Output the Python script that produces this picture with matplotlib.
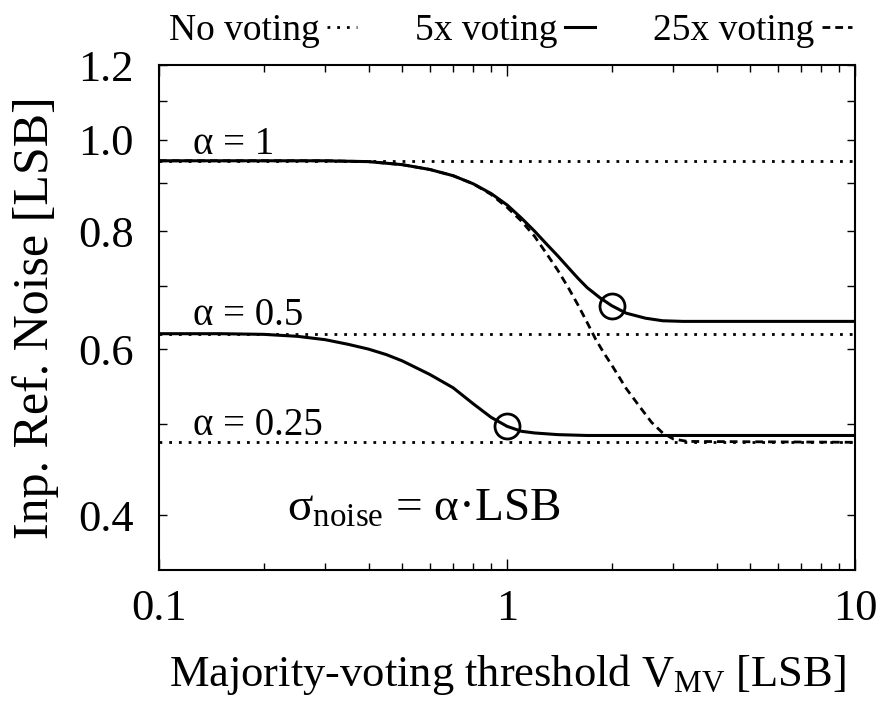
import matplotlib
matplotlib.use("Agg")
import matplotlib.pyplot as plt
from matplotlib.ticker import FixedLocator, FixedFormatter, NullFormatter, LogLocator, NullLocator
from matplotlib.lines import Line2D

plt.rcParams['font.family'] = ['Liberation Serif', 'DejaVu Serif']
plt.rcParams['mathtext.fontset'] = 'custom'
plt.rcParams['mathtext.rm'] = 'Liberation Serif'
plt.rcParams['mathtext.it'] = 'Liberation Serif:italic'

# ---- data ----
x_range = [0.1, 10]
nv_a1 = [0.950, 0.950]
nv_a05 = [0.623, 0.623]
nv_a025 = [0.478, 0.478]

x5_a1 = [0.1, 0.3, 0.4, 0.5, 0.6, 0.7, 0.8, 0.9, 1.0, 1.1, 1.2, 1.3, 1.4, 1.5, 1.6, 1.7, 1.85, 2.0, 2.2, 2.5, 2.8, 3.2, 10]
y5_a1 = [0.950, 0.950, 0.948, 0.941, 0.930, 0.916, 0.898, 0.877, 0.853, 0.826, 0.800, 0.775, 0.753, 0.732,
         0.713, 0.697, 0.680, 0.667, 0.655, 0.647, 0.643, 0.642, 0.642]

x25_a1 = [0.1, 0.3, 0.4, 0.5, 0.6, 0.7, 0.8, 0.9, 1.0, 1.1, 1.2, 1.3, 1.4, 1.5, 1.6, 1.7, 1.8, 1.9, 2.0,
          2.2, 2.4, 2.6, 2.8, 3.0, 3.3, 10]
y25_a1 = [0.950, 0.950, 0.948, 0.941, 0.930, 0.916, 0.898, 0.875, 0.848, 0.820, 0.790, 0.757, 0.727, 0.697,
          0.668, 0.640, 0.614, 0.594, 0.577, 0.545, 0.522, 0.502, 0.489, 0.482, 0.479, 0.478]

x5_a05 = [0.1, 0.15, 0.2, 0.25, 0.3, 0.35, 0.4, 0.45, 0.5, 0.55, 0.6, 0.7, 0.8, 0.9, 1.0, 1.1, 1.2, 1.4, 1.7, 10]
y5_a05 = [0.623, 0.623, 0.622, 0.619, 0.614, 0.607, 0.600, 0.592, 0.583, 0.573, 0.564, 0.546, 0.525, 0.508,
          0.497, 0.491, 0.489, 0.487, 0.486, 0.486]

circle_x = [2.0, 1.0]
circle_y = [0.667, 0.497]

y_ticks = [0.4, 0.5, 0.6, 0.7, 0.8, 0.9, 1.0, 1.1, 1.2]
y_ticklabels = ['0.4', '', '0.6', '', '0.8', '', '1.0', '', '1.2']
x_ticks = [0.1, 1, 10]
x_ticklabels = ['0.1', '1', '10']

alpha_labels = ['α = 1', 'α = 0.5', 'α = 0.25']
alpha_label_y = [0.966, 0.636, 0.486]

# ---- figure ----
fig = plt.figure(figsize=(8.89, 7.09), dpi=100)
ax = fig.add_axes([0.1789, 0.196, 0.9618 - 0.1789, 0.9083 - 0.196])
ax.set_xscale('log')
ax.set_yscale('log')
ax.set_xlim(0.1, 10)
ax.set_ylim(0.35, 1.2)

dot = (0, (1, 2.5))
dash = (0, (2.8, 1.8))
lw = 2.0
for yv in (nv_a1, nv_a05, nv_a025):
    ax.plot(x_range, yv, color='black', lw=lw, linestyle=dot)
ax.plot(x25_a1, y25_a1, color='black', lw=lw, linestyle=dash)
ax.plot(x5_a1, y5_a1, color='black', lw=2.2, linestyle='-')
ax.plot(x5_a05, y5_a05, color='black', lw=2.2, linestyle='-')
ax.plot(circle_x, circle_y, linestyle='none', marker='o', ms=18, mfc='none', mec='black', mew=2)

for lab, yv in zip(alpha_labels, alpha_label_y):
    ax.text(0.125, yv, lab, fontsize=28, va='baseline', ha='left')
ax.text(0.233, 0.395, r'σ$_{\mathrm{noise}}$ = α·LSB', fontsize=34, va='baseline', ha='left')

ax.yaxis.set_major_locator(FixedLocator(y_ticks))
ax.yaxis.set_major_formatter(FixedFormatter(y_ticklabels))
ax.yaxis.set_minor_locator(NullLocator())
ax.xaxis.set_major_locator(FixedLocator(x_ticks))
ax.xaxis.set_major_formatter(FixedFormatter(x_ticklabels))
ax.xaxis.set_minor_locator(LogLocator(base=10, subs=range(2, 10)))
ax.xaxis.set_minor_formatter(NullFormatter())

ax.tick_params(which='both', direction='in', top=True, right=True, labelsize=32)
ax.tick_params(axis='y', which='major', length=6, width=1, pad=18)
ax.tick_params(axis='x', which='major', length=8, width=1, pad=14)
ax.tick_params(axis='x', which='minor', length=5, width=1)
for s in ax.spines.values():
    s.set_linewidth(1.5)

ax.set_xlabel(r'Majority-voting threshold V$_{\mathrm{MV}}$ [LSB]', fontsize=32, labelpad=16)
ax.set_ylabel('Inp. Ref. Noise [LSB]', fontsize=36, labelpad=14)

handles = [Line2D([], [], color='black', lw=lw, linestyle=dot),
           Line2D([], [], color='black', lw=2.2, linestyle='-'),
           Line2D([], [], color='black', lw=lw, linestyle=dash)]
labels = ['No voting', '5x voting', '25x voting']
fig.legend(handles, labels, loc='center', bbox_to_anchor=(0.574, 0.956), ncol=3,
           markerfirst=False, frameon=False, fontsize=27, handlelength=0.8,
           handletextpad=0.2, columnspacing=1.55, borderpad=0)

fig.savefig('out.png', dpi=100)
